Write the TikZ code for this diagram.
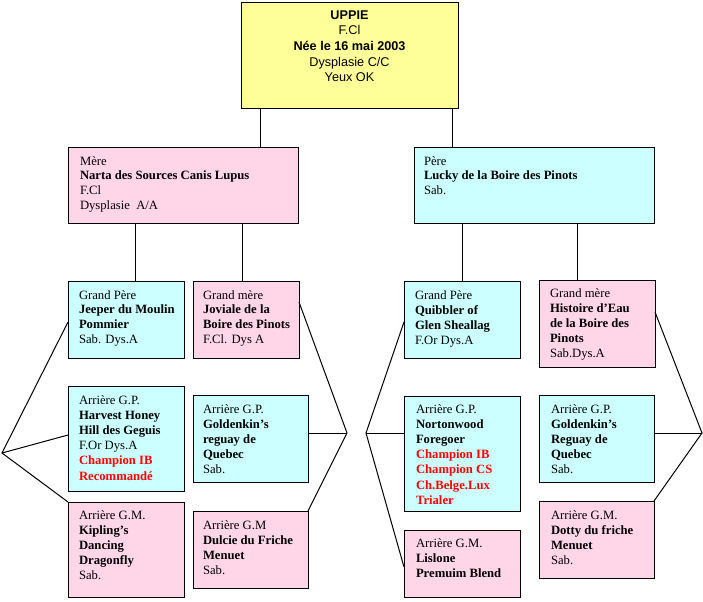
\documentclass[tikz,border=0pt]{standalone}
\usepackage{fontspec}
\setmainfont{Liberation Serif}
\newfontfamily\arialf{Liberation Sans}
\usetikzlibrary{calc}
\definecolor{pedyellow}{HTML}{FFFF99}
\definecolor{pedpink}{HTML}{FFD5E8}
\definecolor{pedcyan}{HTML}{CCFFFF}
\definecolor{pedred}{HTML}{FF0000}
\newcommand\pedbox[6]{\node[pbox,fill=#6,minimum width={(#3-#1)*0.75pt},minimum height={(#4-#2)*0.75pt}] (#5) at ({(#1+#3)/2},{(#2+#4)/2}) {};}
\newcommand\pedtxt[5]{\node[ptxt,#4] (#1) at (#2,{#3-12}) {\rule{0pt}{9pt}#5};}
\newcommand\rd[1]{\textcolor{pedred}{\textbf{#1}}}
\begin{document}
\begin{tikzpicture}[x=0.75pt,y=-0.75pt,
  pbox/.style={draw=black,line width=0.75pt,inner sep=0pt,outer sep=0pt},
  ptxt/.style={inner sep=0pt,outer sep=0pt,align=left,anchor=north west,font=\fontsize{9.5}{11.4}\selectfont},
  tight/.style={font=\fontsize{9.5}{11}\selectfont},
  conn/.style={draw=black,line width=0.75pt}]
\useasboundingbox (0,0) rectangle (703,601);
% boxes
\pedbox{241}{2}{458}{108}{top}{pedyellow}
\pedbox{68}{147}{298}{223}{mere}{pedpink}
\pedbox{414}{147}{654}{223}{pere}{pedcyan}
\pedbox{68}{281}{184}{358}{gpl}{pedcyan}
\pedbox{193}{281}{299}{358}{gml}{pedpink}
\pedbox{404}{281}{520}{358}{gpr}{pedcyan}
\pedbox{539}{280}{655}{367}{gmr}{pedpink}
\pedbox{68}{386}{184}{491}{harvest}{pedcyan}
\pedbox{68}{502}{184}{597}{kipling}{pedpink}
\pedbox{193}{395}{308}{482}{goldl}{pedcyan}
\pedbox{193}{511}{308}{588}{dulcie}{pedpink}
\pedbox{404}{396}{520}{511}{nort}{pedcyan}
\pedbox{404}{530}{520}{597}{lislone}{pedpink}
\pedbox{539}{395}{654}{482}{goldr}{pedcyan}
\pedbox{539}{501}{654}{578}{dotty}{pedpink}
% texts
\node[inner sep=0pt,align=center,anchor=north,font=\arialf\fontsize{9.5}{11.7}\selectfont] (t-top) at (349.5,7)
 {\rule{0pt}{9pt}\textbf{UPPIE}\\F.Cl\\\textbf{Née le 16 mai 2003}\\Dysplasie C/C\\Yeux OK};
\pedtxt{t-mere}{80}{165}{tight}{Mère\\\textbf{Narta des Sources Canis Lupus}\\F.Cl\\Dysplasie~ A/A}
\pedtxt{t-pere}{424}{165}{tight}{Père\\\textbf{Lucky de la Boire des Pinots}\\Sab.}
\pedtxt{t-gpl}{79}{299}{tight}{Grand Père\\\textbf{Jeeper du Moulin}\\\textbf{Pommier}\\Sab. Dys.A}
\pedtxt{t-gml}{203}{299}{tight}{Grand mère\\\textbf{Joviale de la}\\\textbf{Boire des Pinots}\\F.Cl. Dys A}
\pedtxt{t-gpr}{415}{299}{}{Grand Père\\\textbf{Quibbler of}\\\textbf{Glen Sheallag}\\F.Or Dys.A}
\pedtxt{t-gmr}{550}{297}{}{Grand mère\\\textbf{Histoire d’Eau}\\\textbf{de la Boire des}\\\textbf{Pinots}\\Sab.Dys.A}
\pedtxt{t-harvest}{79}{404}{}{Arrière G.P.\\\textbf{Harvest Honey}\\\textbf{Hill des Geguis}\\F.Or Dys.A\\\rd{Champion IB}\\\rd{Recommandé}}
\pedtxt{t-kipling}{79}{519}{}{Arrière G.M.\\\textbf{Kipling’s}\\\textbf{Dancing}\\\textbf{Dragonfly}\\Sab.}
\pedtxt{t-goldl}{203}{413}{}{Arrière G.P.\\\textbf{Goldenkin’s}\\\textbf{reguay de}\\\textbf{Quebec}\\Sab.}
\pedtxt{t-dulcie}{203}{529}{}{Arrière G.M\\\textbf{Dulcie du Friche}\\\textbf{Menuet}\\Sab.}
\pedtxt{t-nort}{416}{413}{}{Arrière G.P.\\\textbf{Nortonwood}\\\textbf{Foregoer}\\\rd{Champion IB}\\\rd{Champion CS}\\\rd{Ch.Belge.Lux}\\\rd{Trialer}}
\pedtxt{t-lislone}{416}{547}{}{Arrière G.M.\\\textbf{Lislone}\\\textbf{Premuim Blend}}
\pedtxt{t-goldr}{551}{413}{}{Arrière G.P.\\\textbf{Goldenkin’s}\\\textbf{Reguay de}\\\textbf{Quebec}\\Sab.}
\pedtxt{t-dotty}{551}{519}{}{Arrière G.M.\\\textbf{Dotty du friche}\\\textbf{Menuet}\\Sab.}
% vertical connector x positions
\coordinate (v1) at (260,0);
\coordinate (v2) at (452,0);
\coordinate (v3) at (135,0);
\coordinate (v4) at (242,0);
\coordinate (v5) at (462,0);
\coordinate (v6) at (577,0);
\draw[conn] (top.south -| v1) -- (mere.north -| v1);
\draw[conn] (top.south -| v2) -- (pere.north -| v2);
\draw[conn] (mere.south -| v3) -- (gpl.north -| v3);
\draw[conn] (mere.south -| v4) -- (gml.north -| v4);
\draw[conn] (pere.south -| v5) -- (gpr.north -| v5);
\draw[conn] (pere.south -| v6) -- (gmr.north -| v6);
% apex points
\coordinate (a1) at (2,453);
\coordinate (a2) at (347,433);
\coordinate (a3) at (366,433);
\coordinate (a4) at (702,433);
\draw[conn] ($(gpl.north west)+(0,41)$) -- (a1) -- (kipling.north west);
\draw[conn] (a1) -- ($(harvest.north west)+(0,49)$);
\draw[conn] ($(gml.north east)+(0,21)$) -- (a2) -- (dulcie.north east);
\draw[conn] (a2) -- (goldl.east |- a2);
\draw[conn] ($(gpr.north west)+(0,41)$) -- (a3) -- ($(lislone.north west)+(0,37)$);
\draw[conn] (a3) -- (nort.west |- a3);
\draw[conn] ($(gmr.north east)+(0,32)$) -- (a4) -- (dotty.north east);
\draw[conn] (a4) -- (goldr.east |- a4);
\end{tikzpicture}
\end{document}
